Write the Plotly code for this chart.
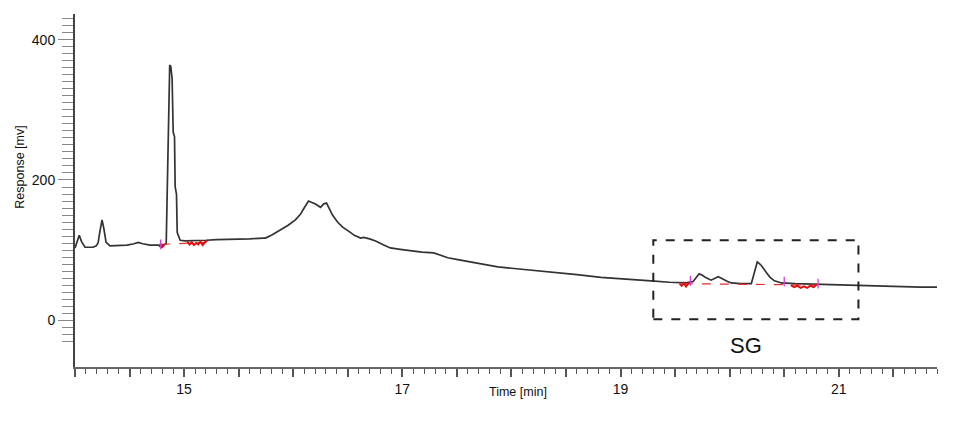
import plotly.graph_objects as go

# --- chromatogram (time in min, response in mV) ---
time_min = [
    14.000, 14.020, 14.039, 14.060, 14.092, 14.130, 14.165, 14.195, 14.211, 14.230,
    14.248, 14.265, 14.285, 14.321, 14.400, 14.478, 14.540, 14.579, 14.620, 14.689,
    14.762, 14.808, 14.836, 14.845, 14.854, 14.862, 14.868, 14.878, 14.890, 14.900,
    14.912, 14.918, 14.930, 14.937, 14.964, 15.010, 15.100, 15.200, 15.300, 15.400,
    15.500, 15.600, 15.726, 15.745, 15.800, 15.880, 15.950, 16.020, 16.066, 16.100,
    16.140, 16.170, 16.200, 16.250, 16.280, 16.305, 16.330, 16.360, 16.406, 16.450,
    16.507, 16.560, 16.617, 16.645, 16.700, 16.755, 16.820, 16.890, 16.980, 17.076,
    17.180, 17.287, 17.350, 17.416, 17.520, 17.627, 17.750, 17.875, 18.000, 18.150,
    18.360, 18.600, 18.820, 19.050, 19.280, 19.450, 19.560, 19.600, 19.665, 19.700,
    19.720, 19.750, 19.776, 19.830, 19.870, 19.895, 19.920, 19.940, 19.980, 20.015,
    20.100, 20.198, 20.225, 20.240, 20.253, 20.270, 20.290, 20.336, 20.370, 20.410,
    20.474, 20.600, 20.840, 21.000, 21.210, 21.400, 21.576, 21.750, 21.915,
]
response_mv = [
    103, 112, 121, 112, 104, 104, 104, 106, 110, 128,
    143, 130, 111, 106, 106, 107, 109, 111, 109, 107,
    107, 106, 110, 180, 270, 350, 364, 362, 345, 268,
    262, 190, 180, 125, 114, 113, 113, 114, 115, 115,
    116, 116, 117, 117, 121, 128, 135, 143, 151, 160,
    170, 168, 166, 161, 166, 167, 160, 150, 140, 133,
    127, 121, 117, 118, 116, 113, 108, 103, 101, 99,
    97, 96, 93, 89, 86, 83, 79, 76, 74, 72,
    69, 65, 61, 58, 56, 54, 53, 53, 55, 62,
    66, 64, 61, 57, 60, 62, 60, 58, 55, 53,
    52, 52, 68, 79, 83, 81, 78, 68, 61, 56,
    53, 52, 51, 50, 49, 48, 48, 47, 47,
]

# --- integration baselines (red dashed) ---
base1_t = [14.79, 15.20]
base1_y = [108, 111]
base2_t = [19.58, 20.80]
base2_y = [52, 50]

# --- integration noise marks (red) ---
red1_t = [14.775, 14.785, 14.795, 14.805, 14.815]
red1_y = [104, 109, 103, 108, 105]
red2_t = [15.03, 15.05, 15.07, 15.09, 15.11, 15.13, 15.15, 15.17, 15.19, 15.21]
red2_y = [112, 108, 111, 107, 110, 108, 112, 107, 111, 113]
red3_t = [19.54, 19.56, 19.58, 19.60, 19.62, 19.64]
red3_y = [52, 49, 53, 48, 52, 54]
red4_t = [20.56, 20.59, 20.62, 20.65, 20.68, 20.71, 20.74, 20.77, 20.80]
red4_y = [50, 47, 49, 46, 48, 46, 49, 47, 51]

# --- peak start/end marks (magenta) ---
mark_t = [14.785, 19.64, 20.50, 20.81]
mark_y = [108, 56, 55, 52]

# --- axis ticks ---
x_major = [14.0 + 0.5 * i for i in range(16)]
x_labels = {15.0: "15", 17.0: "17", 19.0: "19", 21.0: "21"}
x_text = [x_labels.get(v, "") for v in x_major]
y_major = [0, 50, 100, 150, 200, 250, 300, 350, 400]
y_labels = {0: "0", 200: "200", 400: "400"}
y_text = [y_labels.get(v, "") for v in y_major]
y_minor = [-30 + 10 * i for i in range(48)]

# --- SG box ---
box_t = [19.30, 21.18]
box_y = [1, 114]

FONT = "Arial, Liberation Sans, sans-serif"

fig = go.Figure()
fig.add_trace(go.Scatter(x=time_min, y=response_mv, mode="lines",
                         line=dict(color="#333333", width=1.7), showlegend=False))
for bt, by in [(base1_t, base1_y), (base2_t, base2_y)]:
    fig.add_trace(go.Scatter(x=bt, y=by, mode="lines",
                             line=dict(color="#e03030", width=1.2, dash="dash"),
                             showlegend=False))
for rt, ry in [(red1_t, red1_y), (red2_t, red2_y), (red3_t, red3_y), (red4_t, red4_y)]:
    fig.add_trace(go.Scatter(x=rt, y=ry, mode="lines",
                             line=dict(color="#e01010", width=2), showlegend=False))
fig.add_trace(go.Scatter(x=mark_t, y=mark_y, mode="markers",
                         marker=dict(symbol="line-ns", size=7,
                                     line=dict(color="#d040e0", width=1.3)),
                         showlegend=False))

fig.add_shape(type="rect", xref="x", yref="y",
              x0=box_t[0], x1=box_t[1], y0=box_y[0], y1=box_y[1],
              line=dict(color="#222222", width=2, dash="dash"))

fig.add_annotation(x=20.15, y=-36, xref="x", yref="y", text="SG", showarrow=False,
                   xanchor="center", yanchor="middle",
                   font=dict(family=FONT, size=22, color="#111111"))
fig.add_annotation(x=18.06, y=-0.071, xref="x", yref="paper", text="Time [min]",
                   showarrow=False, xanchor="center", yanchor="middle",
                   font=dict(family=FONT, size=12.5, color="#111111"))
fig.add_annotation(x=-0.064, y=0.567, xref="paper", yref="paper", text="Response [mv]",
                   textangle=-90, showarrow=False, xanchor="center", yanchor="middle",
                   font=dict(family=FONT, size=12.5, color="#111111"))

fig.update_layout(
    width=968, height=419,
    margin=dict(l=67, r=39, t=6, b=60),
    paper_bgcolor="white", plot_bgcolor="white",
    font=dict(family=FONT, size=14, color="#111111"),
    xaxis=dict(range=[14.0, 21.9], showgrid=False, zeroline=False,
               showline=True, linecolor="#666666", linewidth=2,
               ticks="outside", ticklen=8, tickwidth=1.5, tickcolor="#555555",
               tickmode="array", tickvals=x_major, ticktext=x_text,
               minor=dict(dtick=0.1, tick0=14.0, ticklen=5, tickwidth=1.2,
                          tickcolor="#555555", ticks="outside", showgrid=False),
               tickfont=dict(size=14)),
    yaxis=dict(range=[-67, 437], showgrid=False, zeroline=False,
               showline=True, linecolor="#444444", linewidth=2,
               ticks="outside", ticklen=15, tickwidth=1.2, tickcolor="#888888",
               tickmode="array", tickvals=y_major, ticktext=y_text,
               minor=dict(tickmode="array", tickvals=y_minor, ticklen=11, tickwidth=1.2,
                          tickcolor="#888888", ticks="outside", showgrid=False),
               tickfont=dict(size=14)),
)

fig.write_html("out.html")
